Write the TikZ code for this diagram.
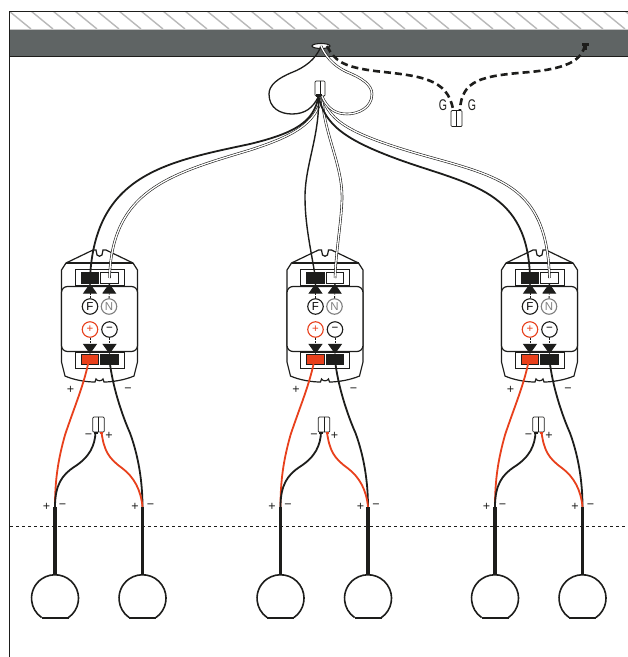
\documentclass[tikz,border=0pt]{standalone}
\usepackage{fontspec}
\setmainfont{Liberation Sans}
\usetikzlibrary{shapes.geometric,arrows.meta}
\definecolor{ceil}{HTML}{5F6464}
\definecolor{redw}{HTML}{E8401C}
\definecolor{ink}{HTML}{1D1D1B}
\tikzset{
  wire/.style={draw=ink,line width=1.8pt},
  redwire/.style={draw=redw,line width=1.8pt},
  dblwire/.style={draw=ink,line width=.6pt,double=white,double distance=1.3pt},
  gwire/.style={draw=ink,line width=2.6pt,dash pattern=on 7pt off 4pt},
  body/.style={draw=ink,line width=1.2pt},
  frameb/.style={draw=ink,line width=.7pt,fill=white,minimum width=49pt,minimum height=16pt,inner sep=0pt},
  term/.style={draw=ink,line width=.7pt,minimum width=17.5pt,minimum height=10.5pt,inner sep=0pt},
  ring/.style={circle,draw=ink,line width=1.1pt,fill=white,minimum size=15.5pt,inner sep=0pt,font=\fontsize{11.5}{11.5}\selectfont},
  pin/.style={draw=ink,line width=.7pt,fill=white,inner sep=0pt,rounded corners=1pt},
  sign/.style={inner sep=0pt,font=\fontsize{12.5}{12.5}\selectfont,text=ink},
  gtext/.style={inner sep=0pt,font=\fontsize{15.5}{15.5}\selectfont,text=ink,xscale=.68},
  probe/.style={draw=ink,line width=.9pt,dash pattern=on 2pt off 1.6pt,-{Triangle[length=10pt,width=14pt]}},
}
\begin{document}
\begin{tikzpicture}[x=1pt,y=-1pt]
\useasboundingbox (0,0) rectangle (628,657);
% ceiling
\fill[white] (0,0) rectangle (628,657);
\begin{scope}
\clip (9.5,11) rectangle (628,29);
\foreach \h in {-13,9,...,640} \draw[gray!55,line width=1.4pt] (\h,11) -- (\h+22,29);
\end{scope}
\fill[ceil] (9.5,29) rectangle (628,56);
\draw[gray!45,line width=1pt] (9.5,29) -- (628,29);
\draw[ink,line width=.8pt] (628,11) -- (9.5,11) -- (9.5,657);
\draw[ink,line width=.8pt] (9.5,56) -- (628,56);
\draw[ink,line width=.8pt,dash pattern=on 3pt off 3pt] (10,526.5) -- (628,526.5);
% junctions
\node[ellipse,draw=ink,fill=white,line width=1.1pt,minimum width=18pt,minimum height=5pt,inner sep=0pt] (rose) at (321,46) {};
\node[pin,minimum width=10pt,minimum height=15pt] (hub) at (320,88.5) {};
\draw[ink,line width=.6pt] (hub.north) -- (hub.south);
\fill[ink] ([xshift=-4pt,yshift=-.5pt]hub.south) rectangle ([xshift=2pt,yshift=2pt]hub.south);
\node[pin,minimum width=11pt,minimum height=16pt] (gconn) at (456.5,118.5) {};
\draw[ink,line width=.6pt] (gconn.north) -- (gconn.south);
\coordinate (earth) at (585,45);
\node[gtext] (gl) at (443,105) {G};
\node[gtext] (gr) at (472,105) {G};
% modules
\foreach \i/\dx in {1/0,2/225.5,3/440}{
\begin{scope}[shift={(\dx,0)}]
  \draw[body,fill=white] (66,263) -- (93,250) -- (96,250) -- (97,255) to[bend right=60] (102,255) -- (103,250) -- (106,250) -- (133,263)
     -- (137.5,270) -- (137.5,362) -- (134,376) .. controls (125,380) and (112,382) .. (104,382)
     -- (103,379) to[bend left=60] (96,379) -- (95,382) .. controls (86,382) and (74,380) .. (65,376)
     -- (61.5,362) -- (61.5,270) -- cycle;
  \draw[ink,line width=1.6pt] (66,263) -- (133,263);
  \node[frameb] (upf\i) at (99.5,277) {};
  \node[frameb] (lof\i) at (99.5,360.5) {};
  \draw[body,fill=white,rounded corners=6pt] (61.5,286.5) rectangle (137.5,351.5);
  \node[term,fill=ink] (tf\i) at (90,278) {};
  \node[term,fill=white] (tn\i) at (109.5,278) {};
  \node[term,fill=redw] (tp\i) at (90,359.5) {};
  \node[term,fill=ink] (tm\i) at (109.5,359.5) {};
  \node[ring] (cf\i) at (90,306.5) {F};
  \node[ring,draw=gray,text=gray] (cn\i) at (109,306.5) {N};
  \node[ring,draw=redw,text=redw] (cp\i) at (90,329.5) {+};
  \node[ring] (cm\i) at (109.5,329.5) {−};
  \draw[probe] (cf\i) -- (tf\i);
  \draw[probe] (cn\i) -- (tn\i);
  \draw[probe] (cp\i) -- (tp\i);
  \draw[probe] (cm\i) -- (tm\i);
  \node[pin,minimum width=11.5pt,minimum height=15pt] (sp\i) at (98.5,424.5) {};
  \draw[ink,line width=.6pt] (sp\i.north) -- (sp\i.south);
  \node[sign] (a\i) at (70.5,390) {+};
  \node[sign] (b\i) at (128,390) {−};
  \node[sign] (c\i) at (88.5,436) {−};
  \node[sign] (d\i) at (109,436) {+};
  \node[sign] (e\i) at (46.5,506.5) {+};
  \node[sign] (f\i) at (62.5,506.5) {−};
  \node[sign] (g\i) at (135,506.5) {+};
  \node[sign] (h\i) at (150.5,506.5) {−};
  % lamps
  \coordinate (la\i) at (55,574.5);
  \coordinate (lb\i) at (142.5,574.5);
  \foreach \n/\cx in {a/55,b/142.5}{
    \draw[body,line width=1.6pt] (\cx+13.5,617.5) arc[start angle=-55,end angle=235,radius=23.5pt];
    \draw[ink,line width=2.6pt] (\cx-13.5,618) -- (\cx+13.5,618);
  }
  % wires below the module
  \draw[redwire] ([xshift=-1pt]tp\i.center) .. controls (84,385) and (75,405) .. (65,435) .. controls (58,460) and (55,480) .. (55,507);
  \draw[wire] (tm\i.center) .. controls (112,385) and (122,415) .. (130,433) .. controls (138,455) and (142.5,480) .. (142.5,507);
  \draw[wire] ([xshift=-3pt]sp\i.south) .. controls (95,445) and (90,457) .. (74,467) .. controls (62,475) and (55,485) .. (55,507);
  \draw[redwire] ([xshift=3pt]sp\i.south) .. controls (104,450) and (108,458) .. (122,468) .. controls (134,477) and (141,490) .. (142.5,507);
  \fill[ink] ([xshift=-5pt,yshift=-2pt]sp\i.south) rectangle ([xshift=-1pt,yshift=.5pt]sp\i.south);
  \fill[redw] ([xshift=1.5pt,yshift=-2pt]sp\i.south) rectangle ([xshift=4.5pt,yshift=.5pt]sp\i.south);
  \draw[ink,line width=3.2pt] (55,507) -- (la\i);
  \draw[ink,line width=3.2pt] (142.5,507) -- (lb\i);
\end{scope}
}
% feeds
\coordinate (hs) at ([xshift=-1.5pt]hub.south);
\coordinate (ht) at ([xshift=2pt]hub.south);
\draw[dblwire] (ht) .. controls (316,125) and (290,137) .. (250,150) .. controls (170,174) and (112,190) .. (tn1.center);
\draw[wire] (hs) .. controls (314,122) and (295,133) .. (250,144) .. controls (165,162) and (95,175) .. (tf1.center);
\draw[dblwire] (ht) .. controls (324,135) and (343,165) .. (342,200) .. controls (341,225) and (336,250) .. (tn2.center);
\draw[wire,line width=1.4pt] (hs) .. controls (320,135) and (305,165) .. (305,197) .. controls (305,225) and (311,250) .. (tf2.center);
\draw[dblwire] (ht) .. controls (330,122) and (350,135) .. (433,158) .. controls (505,178) and (547,190) .. (tn3.center);
\draw[wire] (hs) .. controls (325,125) and (345,140) .. (400,160) .. controls (470,185) and (528,190) .. (tf3.center);
% loops
\draw[wire,line width=1.3pt] (rose.center) .. controls (316,60) and (303,68) .. (293,72) .. controls (278,78) and (269,85) .. (269,94) .. controls (269,108) and (280,114) .. (292,114) .. controls (305,114) and (313,108) .. (hs);
\draw[dblwire] (rose.center) .. controls (325,55) and (332,65) .. (347,72) .. controls (362,78) and (372,85) .. (372,94) .. controls (372,108) and (358,114) .. (347,114) .. controls (335,114) and (327,108) .. (ht);
% earth
\draw[gwire] ([xshift=6pt]rose.center) .. controls (335,62) and (345,67) .. (375,71) .. controls (420,76) and (448,78) .. ([xshift=2.5pt]gconn.north west);
\draw[gwire] (earth) .. controls (582,58) and (572,68) .. (530,72) .. controls (480,76) and (462,80) .. ([xshift=-2.5pt]gconn.north east);
\fill[ink] (581.5,43) rectangle (588.5,45.5);
\fill[ink] (583.5,44) rectangle (586.5,50);
\end{tikzpicture}
\end{document}
